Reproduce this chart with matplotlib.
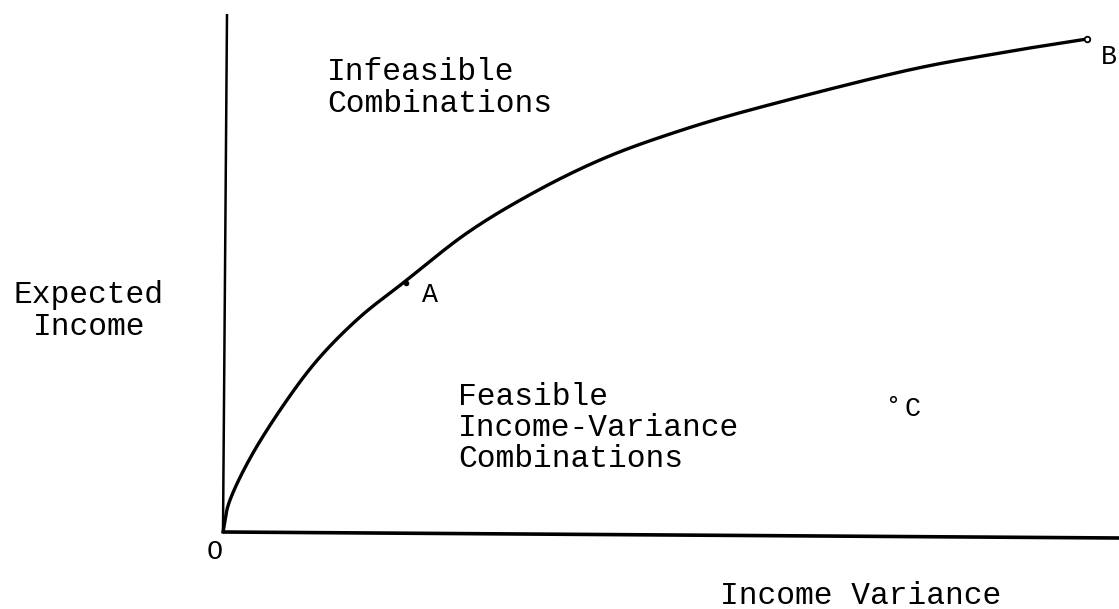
import numpy as np
import matplotlib
matplotlib.use("Agg")
import matplotlib.pyplot as plt

# frontier (variance, expected income), origin at O
variance = [0, 7, 30, 64, 97, 137, 180, 244, 310, 377, 444, 527, 677, 777, 864]
income = [0, 32, 79, 132, 175, 215, 249, 299, 339, 372, 397, 422, 460, 479, 493]

# labelled points
pt_names = ["A", "B", "C"]
pt_var = [183, 864, 670]
pt_inc = [249, 493, 133]

# axis ends
yaxis_var = [0, 4]
yaxis_inc = [0, 518]
xaxis_var = [0, 896]
xaxis_inc = [0, -6]


def smooth(xs, ys, n=20):
    # catmull-rom through the read points, only for drawing a smooth stroke
    p = np.column_stack([xs, ys]).astype(float)
    p = np.vstack([p[0] - (p[1] - p[0]), p, p[-1] + (p[-1] - p[-2])])
    out = []
    t = np.linspace(0, 1, n, endpoint=False)[:, None]
    for i in range(1, len(p) - 2):
        p0, p1, p2, p3 = p[i - 1], p[i], p[i + 1], p[i + 2]
        seg = 0.5 * ((2 * p1) + (-p0 + p2) * t + (2 * p0 - 5 * p1 + 4 * p2 - p3) * t ** 2
                     + (-p0 + 3 * p1 - 3 * p2 + p3) * t ** 3)
        out.append(seg)
    out.append(p[-2][None, :])
    out = np.vstack(out)
    return out[:, 0], out[:, 1]


plt.rcParams['font.family'] = ['Liberation Mono', 'DejaVu Sans Mono']
fs = 22.5

fig = plt.figure(figsize=(11.19, 6.09), dpi=100)
ax = fig.add_axes([0, 0, 1, 1])
ax.set_xlim(-223, 896)
ax.set_ylim(-77, 532)
ax.axis('off')

ax.plot(yaxis_var, yaxis_inc, color='black', lw=1.8, solid_capstyle='butt')
ax.plot(xaxis_var, xaxis_inc, color='black', lw=2.6, solid_capstyle='butt')
sx, sy = smooth(variance, income)
ax.plot(sx, sy, color='black', lw=2.4, solid_joinstyle='round')

# point markers
ax.plot(pt_var[0], pt_inc[0], 'o', ms=3, color='black')
ax.plot(pt_var[1], pt_inc[1], 'o', ms=4, mfc='white', mec='black', mew=1.3)
ax.plot(pt_var[2], pt_inc[2], 'o', ms=4, mfc='white', mec='black', mew=1.1)

ax.text(pt_var[0] + 24, pt_inc[0] - 12, pt_names[0], fontsize=fs * 0.85, ha='center', va='center')
ax.text(pt_var[1] + 22, pt_inc[1] - 18, pt_names[1], fontsize=fs * 0.85, ha='center', va='center')
ax.text(pt_var[2] + 20, pt_inc[2] - 10, pt_names[2], fontsize=fs * 0.85, ha='center', va='center')
ax.text(-8, -20, "O", fontsize=fs * 0.85, ha='center', va='center')

ax.text(104, 475, "Infeasible\nCombinations", fontsize=fs, ha='left', va='top', linespacing=1.1)
ax.text(235, 150, "Feasible\nIncome-Variance\nCombinations", fontsize=fs, ha='left', va='top', linespacing=1.04)
ax.text(-134, 221, "Expected\nIncome", fontsize=fs, ha='center', va='center', linespacing=1.05)
ax.text(497, -64, "Income Variance", fontsize=fs, ha='left', va='center')

fig.savefig("out.png", dpi=100)
